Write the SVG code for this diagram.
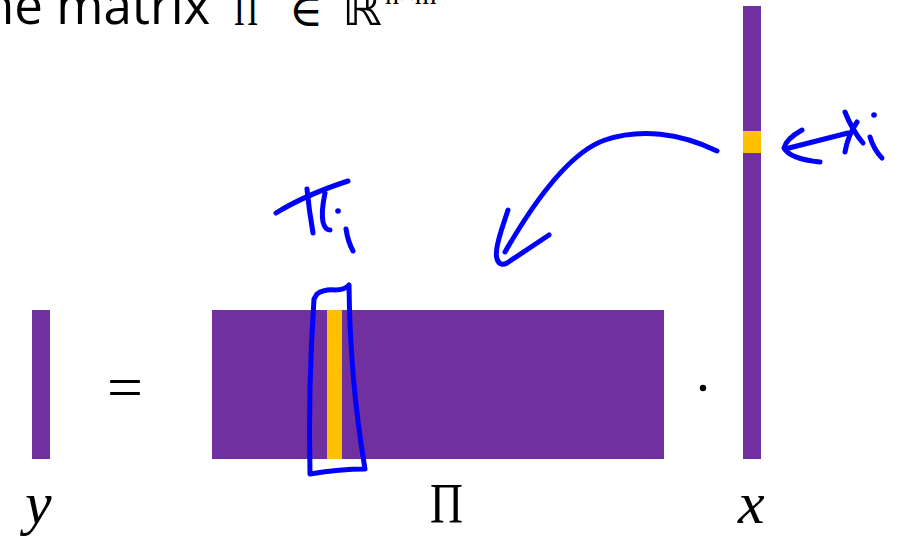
<svg xmlns="http://www.w3.org/2000/svg" width="902" height="539" viewBox="0 0 902 539">
<style>
.purple{fill:#7030A0}
.orange{fill:#FFC000}
.ink{fill:none;stroke:#0000FF;stroke-width:5;stroke-linecap:round;stroke-linejoin:round}
.title{font-family:"Open Sans","Noto Sans",sans-serif;font-size:51px;fill:#000}
.math{font-family:"Liberation Serif","DejaVu Serif",serif;fill:#000}
.mi{font-family:"Liberation Serif","DejaVu Serif",serif;font-style:italic;font-size:60px;fill:#000}
</style>
<rect width="902" height="539" fill="#fff"/>
<g id="title">
<text class="title" x="-17" y="24">ne matrix</text>
<text class="math" x="234" y="25" font-size="48" textLength="24" lengthAdjust="spacingAndGlyphs">Π</text>
<text x="289" y="26" font-family="DejaVu Serif,serif" font-size="46" fill="#000">∈</text>
<text x="342" y="25" font-family="DejaVu Sans,sans-serif" font-size="48" fill="#000" textLength="40" lengthAdjust="spacingAndGlyphs">ℝ</text>
<text class="math" x="385" y="4" font-size="28">n×m</text>
</g>
<g id="y-vector">
<rect class="purple" x="32" y="310" width="18" height="149"/>
<text class="mi" x="25" y="523">y</text>
</g>
<g id="equals">
<text class="math" x="107" y="407" font-size="60" textLength="36" lengthAdjust="spacingAndGlyphs">=</text>
</g>
<g id="pi-matrix">
<rect class="purple" x="212" y="310" width="452" height="149"/>
<rect class="orange" x="327" y="310" width="15" height="149"/>
<text class="math" x="430" y="523" font-size="58" textLength="33" lengthAdjust="spacingAndGlyphs">Π</text>
</g>
<g id="dot">
<circle cx="703" cy="388" r="3.2" fill="#000"/>
</g>
<g id="x-vector">
<rect class="purple" x="743" y="6" width="18" height="453"/>
<rect class="orange" x="743" y="131" width="18" height="22"/>
<text class="mi" x="738" y="523">x</text>
</g>
<g id="annotations">
<path class="ink" d="M717,151 C680,133 640,128 605,140 C570,152 535,200 505,252"/>
<path class="ink" d="M508,210 C502,228 494,250 497,259 Q500,267 507,263 L549,235"/>
<path class="ink" d="M276,213 Q305,195 348,181"/>
<path class="ink" d="M307,189 Q309,210 313,233"/>
<path class="ink" d="M325,193 Q321,212 323,222 Q325,230 330,230"/>
<circle cx="338" cy="211" r="2.8" fill="#0000FF"/>
<path class="ink" d="M346,229 Q348,242 353,251"/>
<path class="ink" d="M314,299 L317,294 Q324,289 335,290 Q345,290 349,285 Q350,380 365,469 Q340,469 310,474 Q308,390 314,299"/>
<path class="ink" d="M802,130 Q786,139 784,148 Q790,159 820,162"/>
<path class="ink" d="M785,149 Q820,140 848,133"/>
<path class="ink" d="M845,112 Q852,130 863,143"/>
<path class="ink" d="M857,122 Q848,135 845,152"/>
<circle cx="874" cy="115" r="2.8" fill="#0000FF"/>
<path class="ink" d="M870,137 Q874,150 882,158"/>
</g>
</svg>
